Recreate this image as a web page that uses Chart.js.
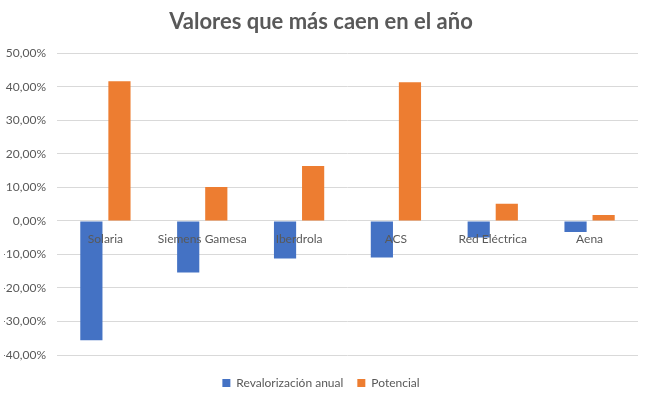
<!DOCTYPE html>
<html>
<head>
<meta charset="utf-8">
<script src="https://cdn.jsdelivr.net/npm/chart.js@4"></script>
<style>
  body { margin: 0; background: #fff; }
  #wrap { width: 651px; height: 399px; }
</style>
</head>
<body>
<div id="wrap"><canvas id="ValoresChart"></canvas></div>
<script>
// datos (en %)
var empresas = ["Solaria", "Siemens Gamesa", "Iberdrola", "ACS", "Red Eléctrica", "Aena"];
var revalorizacion = [-35.6, -15.4, -11.2, -10.9, -4.9, -3.3];
var potencial = [41.7, 10.1, 16.4, 41.4, 5.1, 1.8];

var gris = "#595959";
Chart.defaults.font.family = "Lato, 'Open Sans', sans-serif";
Chart.defaults.color = gris;

function formatoPct(v) {
    return v.toFixed(2).replace(".", ",") + "%";
}

// leyenda con altura fija y bajada un poco, para dejar aire bajo el eje
var alturaLeyenda = {
    id: "alturaLeyenda",
    beforeInit: function (chart) {
        var fitOriginal = chart.legend.fit;
        chart.legend.fit = function () {
            fitOriginal.call(this);
            this.height = 44;
        };
    },
    afterLayout: function (chart) {
        chart.legend.top += 8;
    }
};

new Chart("ValoresChart", {
    type: "bar",
    data: {
        labels: empresas,
        datasets: [
            {
                label: "Revalorización anual",
                data: revalorizacion,
                backgroundColor: "#4472C4"
            },
            {
                label: "Potencial",
                data: potencial,
                backgroundColor: "#ED7D31"
            }
        ]
    },
    plugins: [alturaLeyenda],
    options: {
        responsive: true,
        maintainAspectRatio: false,
        animation: false,
        layout: { padding: { left: 4, right: 13, top: 0, bottom: 0 } },
        datasets: {
            bar: { categoryPercentage: 0.58, barPercentage: 0.79 }
        },
        plugins: {
            title: {
                display: true,
                text: "Valores que más caen en el año",
                color: gris,
                font: { size: 22, weight: "bold" },
                padding: { top: 9, bottom: 18 }
            },
            legend: {
                position: "bottom",
                labels: {
                    boxWidth: 8,
                    boxHeight: 8,
                    color: gris,
                    font: { size: 12 },
                    padding: 14
                }
            },
            tooltip: { enabled: false }
        },
        scales: {
            x: {
                position: { y: 0 },
                grid: { display: false, drawTicks: false },
                border: { display: false },
                ticks: { z: 1, color: gris, font: { size: 12 }, padding: 11, maxRotation: 0 }
            },
            y: {
                min: -40,
                max: 50,
                afterFit: function (scale) { scale.width = 53; },
                grid: { color: "#D9D9D9", drawTicks: false },
                border: { display: false },
                ticks: {
                    stepSize: 10,
                    color: gris,
                    font: { size: 12 },
                    padding: 11,
                    callback: function (v) { return formatoPct(v); }
                }
            }
        }
    }
});
</script>
</body>
</html>
